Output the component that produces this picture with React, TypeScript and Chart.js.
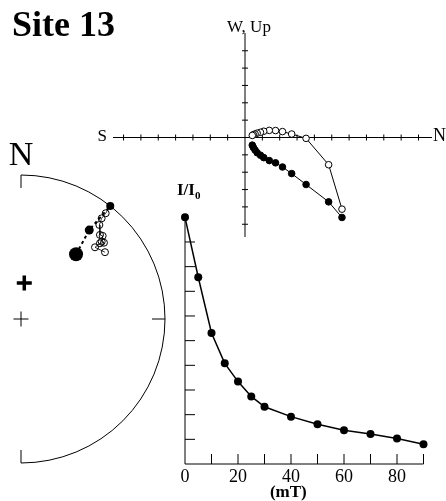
import React, { useEffect, useRef } from "react";
import { Chart, registerables } from "chart.js";

Chart.register(...registerables);

const SERIF = '"Liberation Serif", "DejaVu Serif", serif';

// AF demagnetization steps (mT); 0 = NRM
const steps = [0, 5, 10, 15, 20, 25, 30, 40, 50, 60, 70, 80, 90];

// Orthogonal vector plot components (arbitrary units, one tick = one unit)
const zNorth = [5.59, 4.82, 3.52, 2.69, 2.16, 1.76, 1.4, 1.08, 0.89, 0.7, 0.58, 0.48, 0.42];
const zWest = [-4.61, -3.71, -2.71, -2.08, -1.7, -1.46, -1.33, -1.16, -1.02, -0.88, -0.72, -0.57, -0.44];
const zUp = [-4.13, -1.57, -0.05, 0.2, 0.34, 0.4, 0.41, 0.36, 0.3, 0.25, 0.2, 0.16, 0.12];

// Normalised remanence intensity I/I0
const intensity = [1.0, 0.757, 0.531, 0.408, 0.334, 0.274, 0.232, 0.192, 0.161, 0.137, 0.122, 0.103, 0.08];
const fieldTicks = [10, 20, 30, 40, 50, 60, 70, 80, 90];
const fieldTickLabels = [0, 20, 40, 60, 80];
const intensityTicks = [0.1, 0.2, 0.3, 0.4, 0.5, 0.6, 0.7, 0.8, 0.9];

// Step directions for the equal-area net (degrees)
const stepDec = [40.4, 37.5, 38.3, 38.7, 38.7, 39.8, 43.2, 44.5, 46.2, 47.4, 46.2, 45.9, 51.5];
const stepInc = [40.7, 23.2, 0, -6.6, -11.4, -16.1, -21.0, -20.2, -23.4, -22.8, -25.0, -29.2, -26.4];

// Reference field direction
const refDec = [5.2];
const refInc = [69.5];

// Equal-area (Schmidt) projection, unit primitive
function project(dec: number, inc: number) {
  const r = Math.SQRT2 * Math.sin(((90 - Math.abs(inc)) * Math.PI) / 360);
  const d = (dec * Math.PI) / 180;
  return { x: r * Math.sin(d), y: r * Math.cos(d) };
}

function baseOptions(padding: any, xMin: number, xMax: number, yMin: number, yMax: number): any {
  return {
    responsive: false,
    maintainAspectRatio: false,
    animation: false,
    events: [],
    layout: { padding, autoPadding: false },
    plugins: { legend: { display: false }, tooltip: { enabled: false }, title: { display: false } },
    scales: {
      x: { type: "linear", display: false, min: xMin, max: xMax },
      y: { type: "linear", display: false, min: yMin, max: yMax },
    },
  };
}

// Axes crossing at the origin with small crossing tick marks
const zijAxes = {
  id: "zijAxes",
  beforeDatasetsDraw(chart: any) {
    const { ctx } = chart;
    const x = chart.scales.x;
    const y = chart.scales.y;
    const x0 = x.getPixelForValue(0);
    const y0 = y.getPixelForValue(0);
    ctx.save();
    ctx.strokeStyle = "#000";
    ctx.lineWidth = 1;
    ctx.beginPath();
    ctx.moveTo(x.left, y0);
    ctx.lineTo(x.right, y0);
    ctx.moveTo(x0, y.top);
    ctx.lineTo(x0, y.bottom);
    for (let t = Math.ceil(x.min); t <= Math.floor(x.max); t++) {
      if (t === 0 || x.max - t < 0.4 || t - x.min < 0.4) continue;
      const px = x.getPixelForValue(t);
      ctx.moveTo(px, y0 - 3);
      ctx.lineTo(px, y0 + 3);
    }
    for (let t = Math.ceil(y.min); t <= Math.floor(y.max); t++) {
      if (t === 0 || y.max - t < 0.4 || t - y.min < 0.4) continue;
      const py = y.getPixelForValue(t);
      ctx.moveTo(x0 - 3, py);
      ctx.lineTo(x0 + 3, py);
    }
    ctx.stroke();
    ctx.fillStyle = "#000";
    ctx.font = `17px ${SERIF}`;
    ctx.textBaseline = "middle";
    ctx.textAlign = "right";
    ctx.fillText("S", x.left - 6, y0 - 1);
    ctx.font = `18px ${SERIF}`;
    ctx.textAlign = "left";
    ctx.fillText("N", x.right + 1, y0 - 1);
    ctx.font = `17px ${SERIF}`;
    ctx.textAlign = "center";
    ctx.textBaseline = "alphabetic";
    ctx.fillText("W, Up", x0 + 4, y.top - 1);
    ctx.restore();
  },
};

// Half primitive of the equal-area net with its tick marks and centre cross
const netFrame = {
  id: "netFrame",
  beforeDatasetsDraw(chart: any) {
    const { ctx } = chart;
    const x = chart.scales.x;
    const y = chart.scales.y;
    const cx = x.getPixelForValue(0);
    const cy = y.getPixelForValue(0);
    const R = x.getPixelForValue(1) - cx;
    ctx.save();
    ctx.strokeStyle = "#000";
    ctx.lineWidth = 1;
    ctx.beginPath();
    ctx.arc(cx, cy, R, -Math.PI / 2, Math.PI / 2);
    ctx.stroke();
    ctx.beginPath();
    ctx.moveTo(cx, cy - R);
    ctx.lineTo(cx, cy - R + 13);
    ctx.moveTo(cx, cy + R);
    ctx.lineTo(cx, cy + R - 13);
    ctx.moveTo(cx + R, cy);
    ctx.lineTo(cx + R - 13, cy);
    ctx.moveTo(cx - 7.5, cy);
    ctx.lineTo(cx + 7.5, cy);
    ctx.moveTo(cx, cy - 7.5);
    ctx.lineTo(cx, cy + 7.5);
    ctx.stroke();
    ctx.fillStyle = "#000";
    ctx.font = `34px ${SERIF}`;
    ctx.textAlign = "center";
    ctx.textBaseline = "alphabetic";
    ctx.fillText("N", cx, cy - R - 10);
    ctx.restore();
  },
};

// Frame, inward ticks and labels of the intensity decay plot
const decayFrame = {
  id: "decayFrame",
  beforeDatasetsDraw(chart: any) {
    const { ctx } = chart;
    const x = chart.scales.x;
    const y = chart.scales.y;
    const xb = y.getPixelForValue(0);
    const yl = x.getPixelForValue(0);
    ctx.save();
    ctx.strokeStyle = "#000";
    ctx.lineWidth = 1;
    ctx.beginPath();
    ctx.moveTo(yl, y.getPixelForValue(1));
    ctx.lineTo(yl, xb);
    ctx.lineTo(x.getPixelForValue(90), xb);
    fieldTicks.forEach((t) => {
      const px = x.getPixelForValue(t);
      ctx.moveTo(px, xb);
      ctx.lineTo(px, xb - 10);
    });
    intensityTicks.forEach((t) => {
      const py = y.getPixelForValue(t);
      ctx.moveTo(yl, py);
      ctx.lineTo(yl + 10, py);
    });
    ctx.stroke();
    ctx.fillStyle = "#000";
    ctx.font = `18px ${SERIF}`;
    ctx.textAlign = "center";
    ctx.textBaseline = "alphabetic";
    fieldTickLabels.forEach((t) => {
      ctx.fillText(String(t), x.getPixelForValue(t), xb + 18);
    });
    ctx.font = `bold 17px ${SERIF}`;
    ctx.fillText("(mT)", x.getPixelForValue(39), xb + 33);
    ctx.textAlign = "left";
    const lx = yl - 8;
    const ly = y.getPixelForValue(1) - 22;
    ctx.fillText("I/I", lx, ly);
    const w = ctx.measureText("I/I").width;
    ctx.font = `bold 11px ${SERIF}`;
    ctx.fillText("0", lx + w, ly + 4);
    ctx.restore();
  },
};

export default function App() {
  const zijRef = useRef<HTMLCanvasElement>(null);
  const netRef = useRef<HTMLCanvasElement>(null);
  const decayRef = useRef<HTMLCanvasElement>(null);

  useEffect(() => {
    const charts: Chart[] = [];

    // Orthogonal vector (Zijderveld) diagram
    const k = 17.35;
    charts.push(
      new Chart(zijRef.current as HTMLCanvasElement, {
        type: "scatter",
        data: {
          datasets: [
            {
              label: "vertical",
              data: zNorth.map((n, i) => ({ x: n, y: zUp[i] })),
              showLine: true,
              borderColor: "#000",
              borderWidth: 1,
              pointRadius: 3.3,
              pointBackgroundColor: "#fff",
              pointBorderColor: "#000",
              pointBorderWidth: 1,
              clip: false,
            },
            {
              label: "horizontal",
              data: zNorth.map((n, i) => ({ x: n, y: zWest[i] })),
              showLine: true,
              borderColor: "#000",
              borderWidth: 1,
              pointRadius: 3.3,
              pointBackgroundColor: "#000",
              pointBorderColor: "#000",
              pointBorderWidth: 1,
              clip: false,
            },
          ],
        },
        options: baseOptions({ left: 113, top: 33, right: 14, bottom: 264 }, -132 / k, 187 / k, -99.5 / k, 104.5 / k),
        plugins: [zijAxes],
      } as any)
    );

    // Equal-area net
    const idx = steps.map((_, i) => i);
    const lowerIdx = idx.filter((i) => stepInc[i] >= 0);
    const upperIdx = idx.filter((i) => stepInc[i] < 0);
    const upperPath = [lowerIdx[lowerIdx.length - 1], ...upperIdx];
    const lowerRadius = [7, 4.5, 4];
    charts.push(
      new Chart(netRef.current as HTMLCanvasElement, {
        type: "scatter",
        data: {
          datasets: [
            {
              label: "lower",
              data: lowerIdx.map((i) => project(stepDec[i], stepInc[i])),
              showLine: true,
              borderColor: "#000",
              borderWidth: 2,
              borderDash: [3, 3],
              pointRadius: (c: any) => lowerRadius[c.dataIndex] ?? 4,
              pointBackgroundColor: "#000",
              pointBorderColor: "#000",
              pointBorderWidth: 0,
              clip: false,
            },
            {
              label: "upper",
              data: upperPath.map((i) => project(stepDec[i], stepInc[i])),
              showLine: true,
              borderColor: "#000",
              borderWidth: 0.8,
              pointRadius: (c: any) => (c.dataIndex === 0 ? 0 : 3.5),
              pointBackgroundColor: "rgba(255,255,255,0)",
              pointBorderColor: "#000",
              pointBorderWidth: 1,
              clip: false,
            },
            {
              label: "reference",
              data: refDec.map((d, i) => project(d, refInc[i])),
              showLine: false,
              pointStyle: "cross",
              pointRadius: 7.5,
              pointBorderColor: "#000",
              pointBorderWidth: 3.5,
              clip: false,
            },
          ],
        },
        options: baseOptions({ left: 3, top: 175, right: 281, bottom: 38 }, -0.125, 1, -1, 1),
        plugins: [netFrame],
      } as any)
    );

    // Intensity decay
    charts.push(
      new Chart(decayRef.current as HTMLCanvasElement, {
        type: "scatter",
        data: {
          datasets: [
            {
              label: "I/I0",
              data: steps.map((s, i) => ({ x: s, y: intensity[i] })),
              showLine: true,
              borderColor: "#000",
              borderWidth: 1.5,
              pointRadius: 4,
              pointBackgroundColor: "#000",
              pointBorderColor: "#000",
              pointBorderWidth: 0,
              clip: false,
            },
          ],
        },
        options: baseOptions({ left: 185, top: 217.3, right: 22.5, bottom: 37 }, 0, 90, 0, 1),
        plugins: [decayFrame],
      } as any)
    );

    return () => charts.forEach((c) => c.destroy());
  }, []);

  const canvasStyle: React.CSSProperties = { position: "absolute", left: 0, top: 0 };
  return (
    <div style={{ position: "absolute", left: 0, top: 0, width: 446, height: 501, background: "#fff", overflow: "hidden" }}>
      <canvas ref={netRef} width={446} height={501} style={canvasStyle} />
      <canvas ref={decayRef} width={446} height={501} style={canvasStyle} />
      <canvas ref={zijRef} width={446} height={501} style={canvasStyle} />
      <div
        style={{
          position: "absolute",
          left: 12,
          top: 6,
          fontFamily: SERIF,
          fontWeight: "bold",
          fontSize: 36,
          lineHeight: "36px",
          color: "#000",
          whiteSpace: "nowrap",
        }}
      >
        Site 13
      </div>
    </div>
  );
}
